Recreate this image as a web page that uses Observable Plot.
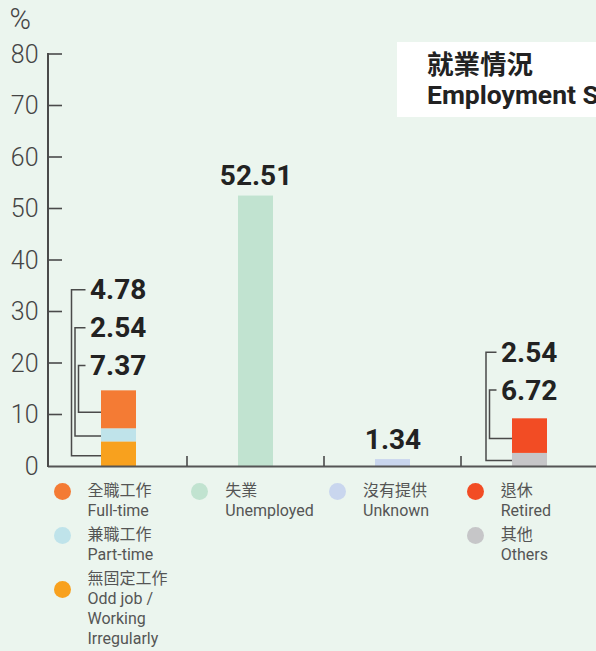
<!DOCTYPE html>
<html>
<head>
<meta charset="utf-8">
<script src="https://cdn.jsdelivr.net/npm/d3@7"></script>
<script src="https://cdn.jsdelivr.net/npm/@observablehq/plot@0.6"></script>
<style>
  html, body { margin: 0; padding: 0; background: #ebf5ee; width: 596px; height: 651px; overflow: hidden; }
  #wrap { position: relative; width: 596px; height: 651px; font-family: Roboto, "Noto Sans CJK TC", sans-serif; }
  #chart { position: absolute; left: 0; top: 0; }
  #title { position: absolute; left: 397px; top: 42px; width: 280px; height: 75px; background: #fff; color: #222; font-weight: 700; font-size: 26.5px; white-space: nowrap; }
  #title div { position: absolute; left: 30px; line-height: 26.5px; }
  .leg { position: absolute; display: flex; align-items: flex-start; font-size: 16px; line-height: 20px; color: #555; }
  .leg .dot { width: 17px; height: 17px; border-radius: 50%; flex: none; margin-right: 17px; margin-left: 5px; }
  .leg .txt { width: 100px; }
</style>
</head>
<body>
<div id="wrap">
  <div id="chart"></div>
  <div id="title"><div style="top:10px">就業情況</div><div style="top:39.5px">Employment Status</div></div>
  <div id="legend"></div>
</div>
<script>
// ---------- data ----------
const groups = ["就業", "失業", "沒有提供", "退休及其他"];
const seriesZh = ["無固定工作", "兼職工作", "全職工作", "失業", "沒有提供", "其他", "退休"];
const seriesEn = ["Odd job / Working Irregularly", "Part-time", "Full-time", "Unemployed", "Unknown", "Others", "Retired"];
const seriesGroup = ["就業", "就業", "就業", "失業", "沒有提供", "退休及其他", "退休及其他"];
const seriesValues = [4.78, 2.54, 7.37, 52.51, 1.34, 2.54, 6.72];
const yTicks = [0, 10, 20, 30, 40, 50, 60, 70, 80];
const yUnit = "%";

// ---------- styles ----------
const seriesColors = ["#f8a11e", "#bfe3ea", "#f47b34", "#c1e3d0", "#c9d6ee", "#c6c6c8", "#f24c24"];

// ---------- layout ----------
const W = 596, H = 476, mL = 48, mR = -3, mT = 54, mB = 10;
const calloutTop = {"就業": 34.2, "退休及其他": 22.1};
const calloutStep = 7.35;

// rows with stack bases
const rows = seriesZh.map((k, i) => ({key: k, en: seriesEn[i], group: seriesGroup[i], value: seriesValues[i]}));
const counts = d3.rollup(rows, v => v.length, d => d.group);
const base = new Map();
const seen = new Map();
for (const r of rows) {
  r.y0 = base.get(r.group) || 0;
  base.set(r.group, r.y0 + r.value);
  r.k = seen.get(r.group) || 0;
  seen.set(r.group, r.k + 1);
  r.n = counts.get(r.group);
}
const singles = rows.filter(r => r.n === 1);
const callouts = rows.filter(r => r.n > 1).map(r => ({
  ...r,
  labelY: calloutTop[r.group] - r.k * calloutStep,
  attachY: r.y0 + 0.42 * r.value
}));

function decorations(index, scales, values, dims) {
  const x = scales.x, y = scales.y;
  const bw = x.bandwidth();
  const center = g => x(g) + bw / 2;
  const g = d3.create("svg:g").attr("fill", "none").attr("stroke", "#4a4a4a");
  // y axis line and inward ticks
  g.append("path").attr("stroke-width", 2).attr("d", `M${dims.marginLeft},${y(0) + 1}V${y(yTicks[yTicks.length - 1]) - 1}`);
  for (const t of yTicks.slice(1)) {
    g.append("path").attr("stroke-width", 1.6).attr("d", `M${dims.marginLeft},${y(t)}h14`);
  }
  // group separators
  for (let i = 1; i < groups.length; i++) {
    const sx = (center(groups[i - 1]) + center(groups[i])) / 2;
    g.append("path").attr("stroke-width", 1.6).attr("d", `M${sx},${y(0)}v-10`);
  }
  // callout leaders
  for (const c of callouts) {
    const cx = center(c.group);
    const vx = cx - 40 - 3.5 * (c.n - 1 - c.k);
    g.append("path").attr("stroke-width", 1.5)
      .attr("d", `M${cx - 33},${y(c.labelY)}H${vx}V${y(c.attachY)}H${cx - bw / 2}`);
  }
  return g.node();
}

const chart = Plot.plot({
  width: W, height: H,
  marginLeft: mL, marginRight: mR, marginTop: mT, marginBottom: mB,
  style: {background: "transparent", fontFamily: "Roboto, 'Noto Sans CJK TC', sans-serif", fontSize: "25px", fontWeight: 300, color: "#444", overflow: "visible"},
  x: {domain: groups, paddingInner: 0.746, paddingOuter: 0.373, axis: null},
  y: {domain: [0, 80], ticks: yTicks, tickSize: 0, tickPadding: 10, label: null, tickFormat: d => d},
  color: {domain: seriesZh, range: seriesColors},
  marks: [
    Plot.barY(rows, {x: "group", y1: "y0", y2: d => d.y0 + d.value, fill: "key"}),
    Plot.ruleY([0], {stroke: "#555", strokeWidth: 2}),
    decorations,
    Plot.text(singles, {x: "group", y: d => d.y0 + d.value, text: d => d.value.toFixed(2), dy: -20,
      fontSize: 28, fontWeight: 700, fill: "#222"}),
    Plot.text(callouts, {x: "group", y: "labelY", text: d => d.value.toFixed(2), dx: -29, textAnchor: "start",
      fontSize: 28, fontWeight: 700, fill: "#222"}),
    Plot.text([yUnit], {frameAnchor: "top-left", lineAnchor: "middle", text: d => d, dx: -39, dy: -35, textAnchor: "start",
      fontSize: 29, fontWeight: 300, fill: "#444"})
  ]
});
document.getElementById("chart").appendChild(chart);

// ---------- legend (columns aligned with groups) ----------
const legend = document.getElementById("legend");
const step = (W - mL - mR) / groups.length;
groups.forEach((grp, gi) => {
  const items = rows.filter(r => r.group === grp).reverse();
  let top = 481;
  items.forEach(r => {
    const lines = r.en.length > 12 ? 4 : 2;
    const el = document.createElement("div");
    el.className = "leg";
    el.style.left = (mL + gi * step + 0.5) + "px";
    el.style.top = top + "px";
    const dot = document.createElement("div");
    dot.className = "dot";
    dot.style.background = seriesColors[seriesZh.indexOf(r.key)];
    dot.style.marginTop = (lines > 2 ? 11.5 : 1.5) + "px";
    const txt = document.createElement("div");
    txt.className = "txt";
    txt.innerHTML = `<div>${r.key}</div><div>${r.en}</div>`;
    el.appendChild(dot); el.appendChild(txt);
    legend.appendChild(el);
    top += lines * 20 + 4;
  });
});
</script>
</body>
</html>
